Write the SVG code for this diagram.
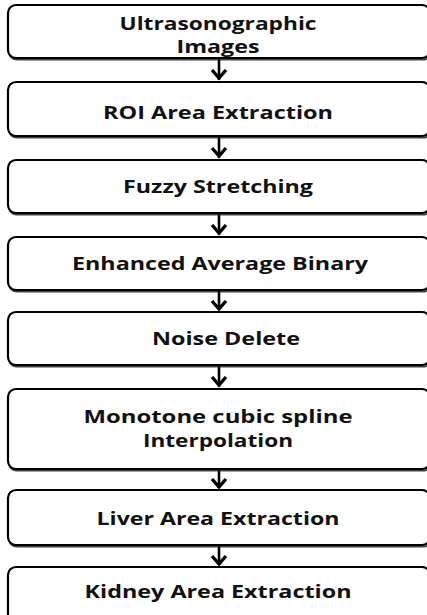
<svg xmlns="http://www.w3.org/2000/svg" width="427" height="615" viewBox="0 0 427 615">
<style>
.box{fill:#fff;stroke:#000;stroke-width:2.2}
.sh{fill:none;stroke:#222;stroke-width:2.2;opacity:0.85}
.t{font-family:"Open Sans","Liberation Sans",sans-serif;font-weight:700;font-size:17.5px;fill:#111;text-anchor:middle}
.c{stroke:#000;stroke-width:2.6;fill:none}
.h{stroke:#000;stroke-width:3.4;fill:none;stroke-linejoin:miter}
</style>
<rect width="427" height="615" fill="#fff"/>
<g id="connectors">
<line class="c" x1="219" y1="59" x2="219" y2="80"/><polyline class="h" points="212,70 219,78 226,70"/>
<line class="c" x1="219" y1="137" x2="219" y2="158"/><polyline class="h" points="212,148 219,156 226,148"/>
<line class="c" x1="219" y1="214" x2="219" y2="235"/><polyline class="h" points="212,225 219,233 226,225"/>
<line class="c" x1="219" y1="291" x2="219" y2="310"/><polyline class="h" points="212,301 219,309 226,301"/>
<line class="c" x1="219" y1="366" x2="219" y2="387"/><polyline class="h" points="212,377 219,385 226,377"/>
<line class="c" x1="219" y1="470" x2="219" y2="488"/><polyline class="h" points="212,479 219,487 226,479"/>
<line class="c" x1="219" y1="546" x2="219" y2="565"/><polyline class="h" points="212,556 219,564 226,556"/>
</g>
<g id="n1"><rect class="sh" x="9" y="6.5" width="422" height="53" rx="8"/><rect class="box" x="8" y="5" width="422" height="53" rx="8"/>
<text class="t" x="218" y="30" textLength="197" lengthAdjust="spacingAndGlyphs">Ultrasonographic</text>
<text class="t" x="218" y="53" textLength="83" lengthAdjust="spacingAndGlyphs">Images</text></g>
<g id="n2"><rect class="sh" x="9" y="83.5" width="422" height="54" rx="8"/><rect class="box" x="8" y="82" width="422" height="54" rx="8"/>
<text class="t" x="218" y="119" textLength="230" lengthAdjust="spacingAndGlyphs">ROI Area Extraction</text></g>
<g id="n3"><rect class="sh" x="9" y="161.5" width="422" height="53" rx="8"/><rect class="box" x="8" y="160" width="422" height="53" rx="8"/>
<text class="t" x="218" y="193" textLength="190" lengthAdjust="spacingAndGlyphs">Fuzzy Stretching</text></g>
<g id="n4"><rect class="sh" x="9" y="238.5" width="422" height="53" rx="8"/><rect class="box" x="8" y="237" width="422" height="53" rx="8"/>
<text class="t" x="220" y="270" textLength="296" lengthAdjust="spacingAndGlyphs">Enhanced Average Binary</text></g>
<g id="n5"><rect class="sh" x="9" y="313.5" width="422" height="53" rx="8"/><rect class="box" x="8" y="312" width="422" height="53" rx="8"/>
<text class="t" x="226" y="345" textLength="148" lengthAdjust="spacingAndGlyphs">Noise Delete</text></g>
<g id="n6"><rect class="sh" x="9" y="390.5" width="422" height="80" rx="8"/><rect class="box" x="8" y="389" width="422" height="80" rx="8"/>
<text class="t" x="218" y="423" textLength="269" lengthAdjust="spacingAndGlyphs">Monotone cubic spline</text>
<text class="t" x="218" y="447" textLength="150" lengthAdjust="spacingAndGlyphs">Interpolation</text></g>
<g id="n7"><rect class="sh" x="9" y="491.5" width="422" height="55" rx="8"/><rect class="box" x="8" y="490" width="422" height="55" rx="8"/>
<text class="t" x="218" y="525" textLength="243" lengthAdjust="spacingAndGlyphs">Liver Area Extraction</text></g>
<g id="n8"><rect class="sh" x="9" y="568.5" width="422" height="60" rx="8"/><rect class="box" x="8" y="567" width="422" height="60" rx="8"/>
<text class="t" x="218" y="598" textLength="267" lengthAdjust="spacingAndGlyphs">Kidney Area Extraction</text></g>
</svg>
